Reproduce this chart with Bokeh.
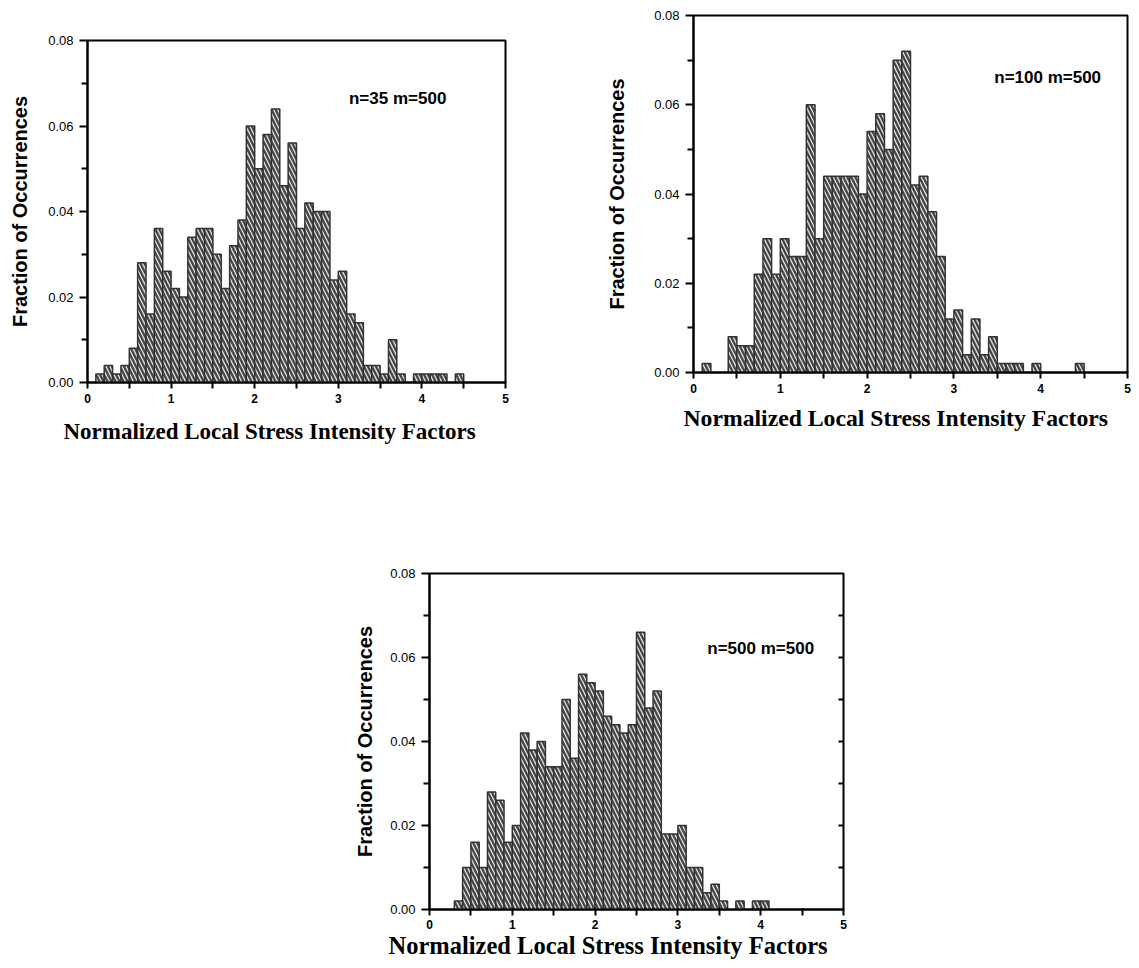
import numpy as np
from bokeh.plotting import figure
from bokeh.models import (Range1d, FixedTicker, LinearAxis, Label, Title, Spacer,
                          ColumnDataSource, NumeralTickFormatter)
from bokeh.layouts import row, column
from bokeh.embed import file_html
from bokeh.resources import INLINE

# ---------------- data (fraction of occurrences per 0.1-wide bin) ----------------
bin_width = 0.1

start_n35 = 0.1
frac_n35 = [0.002, 0.004, 0.002, 0.004, 0.008, 0.028, 0.016, 0.036, 0.026, 0.022,
            0.020, 0.034, 0.036, 0.036, 0.030, 0.022, 0.032, 0.038, 0.060, 0.050,
            0.058, 0.064, 0.046, 0.056, 0.036, 0.042, 0.040, 0.040, 0.024, 0.026,
            0.016, 0.014, 0.004, 0.004, 0.002, 0.010, 0.002, 0.000, 0.002, 0.002,
            0.002, 0.002, 0.000, 0.002]

start_n100 = 0.1
frac_n100 = [0.002, 0.000, 0.000, 0.008, 0.006, 0.006, 0.022, 0.030, 0.022, 0.030,
             0.026, 0.026, 0.060, 0.030, 0.044, 0.044, 0.044, 0.044, 0.040, 0.054,
             0.058, 0.050, 0.070, 0.072, 0.042, 0.044, 0.036, 0.026, 0.012, 0.014,
             0.004, 0.012, 0.004, 0.008, 0.002, 0.002, 0.002, 0.000, 0.002, 0.000,
             0.000, 0.000, 0.000, 0.002]

start_n500 = 0.3
frac_n500 = [0.002, 0.010, 0.016, 0.010, 0.028, 0.026, 0.016, 0.020, 0.042, 0.038,
             0.040, 0.034, 0.034, 0.050, 0.036, 0.056, 0.054, 0.052, 0.046, 0.044,
             0.042, 0.044, 0.066, 0.048, 0.052, 0.018, 0.018, 0.020, 0.010, 0.010,
             0.004, 0.006, 0.002, 0.000, 0.002, 0.000, 0.002, 0.002]

x_major = [0, 1, 2, 3, 4, 5]
x_minor = [0.5, 1.5, 2.5, 3.5, 4.5]
y_major = [0.0, 0.02, 0.04, 0.06, 0.08]
y_minor = [0.01, 0.03, 0.05, 0.07]

x_title = "Normalized Local Stress Intensity Factors"
y_title = "Fraction of Occurrences"


def make_hist(frac, start, label_text, label_x, label_y, fw, fh, bl, bt, br, bb,
              title_offset, title_standoff, title_size, ylab_standoff=14, xtick_standoff=5,
              right_ticks=False):
    p = figure(frame_width=fw, frame_height=fh,
               min_border_left=bl, min_border_top=bt, min_border_right=br, min_border_bottom=bb,
               x_range=Range1d(0, 5), y_range=Range1d(0, 0.08),
               output_backend="svg", toolbar_location=None)
    p.background_fill_color = "white"
    p.border_fill_color = "white"
    p.outline_line_color = "black"
    p.outline_line_width = 2
    p.grid.visible = False

    frac = np.asarray(frac, dtype=float)
    left = start + bin_width * np.arange(len(frac))
    keep = frac > 0
    src = ColumnDataSource(dict(left=left[keep], right=left[keep] + bin_width, top=frac[keep]))
    p.quad(left="left", right="right", top="top", bottom=0, source=src,
           fill_color="#454545", line_color="#333333", line_width=1.5,
           hatch_pattern="left_diagonal_line", hatch_color="#ffffff", hatch_alpha=0.85,
           hatch_weight=1.3, hatch_scale=8)

    xa = p.xaxis[0]
    xa.ticker = FixedTicker(ticks=x_major, minor_ticks=x_minor)
    xa.axis_line_width = 2
    xa.major_tick_line_width = 2
    xa.minor_tick_line_width = 2
    xa.major_tick_out = 6
    xa.major_tick_in = 1
    xa.minor_tick_out = 6
    xa.minor_tick_in = 1
    xa.major_label_text_font = "Liberation Sans"
    xa.major_label_text_font_style = "bold"
    xa.major_label_text_font_size = "12px"
    xa.major_label_text_color = "black"
    xa.major_label_standoff = xtick_standoff

    ya = p.yaxis[0]
    ya.ticker = FixedTicker(ticks=y_major, minor_ticks=y_minor)
    ya.formatter = NumeralTickFormatter(format="0.00")
    ya.axis_line_width = 2
    ya.major_tick_line_width = 2
    ya.minor_tick_line_width = 2
    ya.major_tick_out = 8
    ya.major_tick_in = 0
    ya.minor_tick_out = 6
    ya.minor_tick_in = 0
    ya.major_label_text_font = "Liberation Sans"
    ya.major_label_text_font_size = "13px"
    ya.major_label_text_color = "black"
    ya.major_label_standoff = 6
    ya.axis_label = y_title
    ya.axis_label_text_font = "Liberation Sans"
    ya.axis_label_text_font_style = "bold"
    ya.axis_label_text_font_size = "20px"
    ya.axis_label_text_color = "black"
    ya.axis_label_standoff = ylab_standoff

    if right_ticks:
        ra = LinearAxis(ticker=FixedTicker(ticks=y_minor + y_major[1:4]),
                        major_tick_in=5, major_tick_out=0, major_tick_line_width=2,
                        major_label_text_color=None, major_label_text_font_size="1px",
                        axis_line_color=None, minor_tick_line_color=None)
        p.add_layout(ra, "right")

    # x-axis title, set slightly left of centre as in the original
    p.add_layout(Title(text=x_title, align="left", offset=title_offset,
                       vertical_align="top", standoff=title_standoff,
                       text_font="Liberation Serif", text_font_style="bold",
                       text_font_size=title_size, text_color="black"), "below")

    p.add_layout(Label(x=label_x, y=label_y, text=label_text, text_align="center",
                       text_baseline="middle", text_font="Liberation Sans",
                       text_font_style="bold", text_font_size="17px", text_color="black"))
    return p


p1 = make_hist(frac_n35, start_n35, "n=35 m=500", 3.71, 0.0664,
               fw=418, fh=342, bl=87, bt=40, br=93, bb=82,
               title_offset=-24, title_standoff=26, title_size="23px", ylab_standoff=14)
p2 = make_hist(frac_n100, start_n100, "n=100 m=500", 4.08, 0.0661,
               fw=434, fh=357, bl=95, bt=15, br=8, bb=92,
               title_offset=-10, title_standoff=18, title_size="23.7px", ylab_standoff=23)
p3 = make_hist(frac_n500, start_n500, "n=500 m=500", 4.0, 0.0621,
               fw=414, fh=336, bl=90, bt=109, br=20, bb=55,
               title_offset=-41, title_standoff=0, title_size="24.5px", ylab_standoff=11,
               xtick_standoff=4, right_ticks=True)

layout = column(row(column(p1), column(p2)), row(Spacer(width=339, height=10), p3))

open("out.html", "w").write(file_html(layout, INLINE))
